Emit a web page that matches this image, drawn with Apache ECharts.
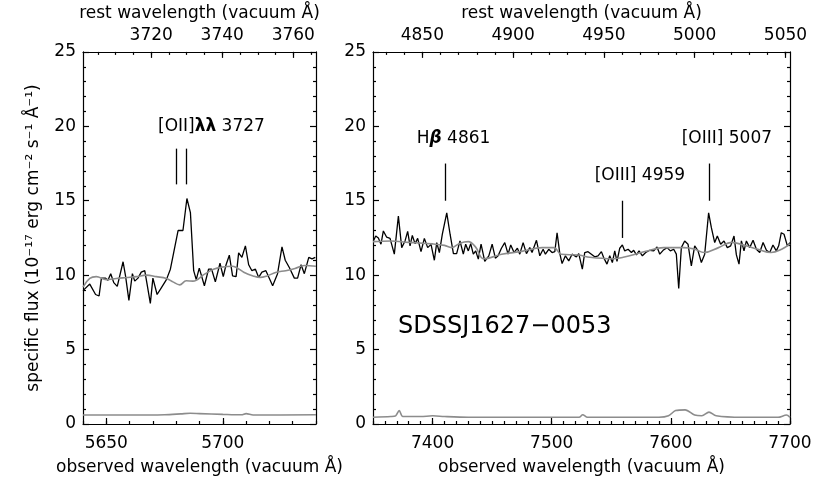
<!DOCTYPE html>
<html>
<head>
<meta charset="utf-8">
<script src="https://cdn.jsdelivr.net/npm/echarts@6/dist/echarts.min.js"></script>
<style>
html, body { margin: 0; padding: 0; background: #fff; }
#chart { width: 830px; height: 499px; }
</style>
</head>
<body>
<div id="chart"></div>
<script>
// redshift used for the rest wavelength axis on top
const z = 0.524;

// left panel: observed wavelength and flux
const obsLeft = [5640.0, 5642.9, 5645.4, 5646.9, 5647.9, 5649.7, 5650.7, 5651.9, 5653.2, 5654.7, 5657.2, 5658.3, 5659.7, 5661.2, 5662.2, 5663.6, 5665.0, 5666.5, 5667.5, 5668.9, 5670.0, 5671.8, 5673.6, 5675.8, 5677.5, 5678.9, 5680.8, 5682.9, 5684.6, 5686.1, 5687.5, 5688.6, 5689.9, 5692.1, 5693.9, 5695.2, 5696.8, 5698.8, 5700.2, 5701.4, 5702.8, 5704.2, 5705.7, 5706.8, 5708.2, 5709.7, 5711.1, 5712.5, 5714.0, 5715.4, 5716.8, 5718.5, 5720.0, 5721.4, 5723.5, 5725.4, 5726.8, 5728.6, 5730.7, 5732.1, 5733.6, 5735.0, 5736.9, 5738.3, 5739.7];
const fluxLeft = [8.96, 9.4, 8.7, 8.6, 9.8, 9.8, 9.65, 10.1, 9.5, 9.25, 10.9, 9.9, 8.3, 10.1, 9.6, 9.8, 10.2, 10.3, 9.4, 8.1, 9.8, 8.7, 9.15, 9.7, 10.4, 11.5, 13.0, 13.0, 15.15, 14.2, 10.3, 9.7, 10.47, 9.29, 10.4, 10.4, 9.55, 10.8, 9.9, 10.7, 11.34, 9.95, 9.9, 11.5, 11.2, 11.97, 10.7, 10.3, 10.4, 9.85, 10.2, 10.3, 9.78, 9.29, 10.1, 11.9, 11.0, 10.5, 9.8, 9.8, 10.7, 10.1, 11.2, 11.1, 11.2];
// left panel: model (grey) and error (grey, bottom)
const modelLeftX = [5640, 5642.9, 5645.7, 5650, 5654.3, 5658.6, 5662.9, 5667.2, 5671.5, 5675.8, 5678.6, 5681.5, 5684.3, 5687.2, 5692, 5696, 5700, 5704, 5706, 5709, 5713, 5716, 5719, 5723, 5727, 5731, 5735, 5740];
const modelLeftY = [9.2, 9.78, 9.9, 9.7, 9.78, 9.84, 9.9, 10.0, 9.9, 9.78, 9.55, 9.35, 9.62, 9.6, 10.05, 10.4, 10.55, 10.6, 10.5, 10.2, 9.95, 9.85, 9.95, 10.2, 10.3, 10.45, 10.65, 10.6];
const errLeftX = [5640, 5660, 5675, 5682, 5686, 5690, 5700, 5708, 5710, 5713, 5740];
const errLeftY = [0.6, 0.6, 0.62, 0.68, 0.72, 0.7, 0.65, 0.62, 0.7, 0.6, 0.62];

// right panel: observed wavelength and flux
const obsRight = [7350.3, 7352.3, 7354.5, 7356.7, 7358.7, 7361.5, 7364.3, 7367.9, 7371.3, 7374.1, 7376.9, 7379.1, 7381.1, 7383.0, 7385.3, 7387.5, 7390.3, 7393.1, 7395.9, 7398.7, 7401.5, 7403.5, 7405.7, 7408.2, 7411.9, 7414.7, 7417.5, 7420.2, 7423.0, 7425.8, 7427.8, 7430.0, 7432.0, 7434.2, 7436.2, 7438.4, 7440.7,
  7443.8, 7447.2, 7450.0, 7452.7, 7455.0, 7457.8, 7460.6, 7463.4, 7465.6, 7468.4, 7471.2, 7473.2, 7476.0, 7478.8, 7481.6, 7483.5, 7487.2, 7490.0, 7492.8, 7494.7, 7497.5, 7500.3, 7502.6, 7504.5, 7506.8, 7508.7, 7511.5, 7514.3, 7517.1, 7520.7, 7522.7,
  7525.7, 7527.7, 7530.5, 7533.3, 7536.1, 7538.9, 7541.7, 7543.6, 7546.4, 7548.7, 7550.9, 7552.9, 7554.8, 7557.1, 7559.3, 7561.3, 7564.1, 7566.9, 7568.8, 7571.1, 7573.3, 7576.1, 7578.9, 7582.3, 7585.6, 7588.4, 7590.7, 7593.5, 7596.8, 7599.6, 7602.4, 7604.6, 7606.6, 7608.8,
  7611.6, 7614.4, 7617.2, 7620.0, 7622.8, 7625.6, 7628.4, 7631.7, 7634.0, 7636.8, 7639.0, 7641.8, 7644.6, 7647.4, 7650.2, 7653.0, 7655.0, 7657.2, 7659.2, 7661.4, 7663.4, 7666.2, 7669.0, 7671.8, 7674.6, 7677.4, 7680.2, 7683.0, 7685.7, 7688.5, 7690.5, 7692.7, 7695.0, 7697.8, 7700.0];
const fluxRight = [12.3, 12.63, 12.5, 12.08, 12.97, 12.55, 12.47, 11.41, 13.97, 11.85, 12.3, 12.94, 11.97, 12.67, 12.12, 12.47, 11.58, 12.47, 11.85, 12.07, 11.0, 12.19, 11.52, 12.75, 14.19, 12.75, 11.45, 11.45, 12.3, 11.41, 12.08, 11.63, 12.12, 11.41, 11.63, 11.08, 12.08,
  10.93, 11.3, 12.08, 11.14, 11.3, 11.81, 12.19, 11.41, 12.03, 11.52, 11.81, 11.41, 12.19, 11.45, 11.85, 11.52, 12.34, 11.3, 11.74, 11.41, 11.74, 11.52, 11.58, 12.85, 11.45, 10.78, 11.3, 10.96, 11.41, 11.23, 11.45,
  10.4, 11.52, 11.58, 11.41, 11.23, 11.3, 11.58, 11.18, 10.74, 11.3, 10.85, 11.63, 10.93, 11.81, 12.03, 11.63, 11.74, 11.52, 11.67, 11.36, 11.63, 11.3, 11.52, 11.67, 11.63, 11.89, 11.41, 11.67, 11.85, 11.63, 11.74, 11.41, 9.1, 11.85,
  12.3, 12.08, 10.63, 11.97, 11.63, 10.85, 11.41, 14.19, 13.19, 12.19, 12.63, 12.08, 12.3, 11.85, 11.97, 12.63, 11.36, 10.74, 12.3, 11.63, 12.3, 11.85, 12.34, 11.74, 11.52, 12.19, 11.67, 11.52, 12.03, 11.63, 11.97, 12.85, 12.75, 11.97, 12.19];
const modelRightX = [7350, 7365, 7380, 7400, 7410, 7416, 7423, 7430, 7436, 7443, 7458, 7475, 7492, 7502, 7508, 7523, 7532, 7551, 7560, 7579, 7594, 7611, 7620, 7628, 7640, 7651, 7662, 7673, 7684, 7693, 7700];
const modelRightY = [12.25, 12.3, 12.2, 12.1, 12.0, 11.85, 12.15, 12.25, 11.9, 11.1, 11.4, 11.6, 11.85, 11.85, 11.4, 11.35, 11.2, 11.1, 11.2, 11.6, 11.85, 11.85, 11.75, 11.52, 11.85, 12.2, 12.0, 11.74, 11.52, 11.74, 12.1];
const errRightX = [7350, 7365, 7369, 7372, 7375, 7390, 7400, 7410, 7430, 7500, 7523, 7526, 7530, 7590, 7598, 7604, 7612, 7620, 7626, 7632, 7638, 7660, 7690, 7697, 7700];
const errRightY = [0.45, 0.5, 0.55, 0.9, 0.5, 0.5, 0.55, 0.5, 0.45, 0.45, 0.45, 0.62, 0.45, 0.45, 0.55, 0.9, 0.95, 0.6, 0.55, 0.8, 0.55, 0.45, 0.45, 0.6, 0.45];

// emission line markers (rest vacuum wavelength, bottom and top of the tick)
const markRest = [3727.09, 3729.88, 4862.68, 4960.30, 5008.24];
const markLow = [16.1, 16.1, 15, 12.5, 15];
const markHigh = [18.5, 18.5, 17.5, 15, 17.5];

// text labels (observed wavelength of left edge, flux of centre)
const leftLabels = [['[OII]{b|λλ} 3727', 5672.2, 20]];
const rightLabels = [['H{g|β} 4861', 7386.7, 19.2], ['[OIII] 4959', 7536.1, 16.7], ['[OIII] 5007', 7609.1, 19.2]];
const objectName = ['SDSSJ1627−0053', 7371, 6.55];

// tick labels
const obsTicksLeft = [5650, 5700];
const obsTicksRight = [7400, 7500, 7600, 7700];
const restTicksLeft = [3720, 3740, 3760];
const restTicksRight = [4850, 4900, 4950, 5000, 5050];

const FONT = 'DejaVu Sans';
const zip = (a, b) => a.map((v, i) => [v, b[i]]);
const steps = (a, b, s) => { const r = []; for (let v = a; v <= b + 1e-9; v += s) r.push(v); return r; };

const lineAx = { show: true, onZero: false, lineStyle: { color: '#000', width: 1.2 } };
const txt = { color: '#000', fontFamily: FONT, fontSize: 17 };
const plain = v => String(Math.round(v));

function xPair(grid, pos, min, max, majors, minors, name, gap) {
  return [{
    type: 'value', gridIndex: grid, position: pos, min: min, max: max,
    axisLine: lineAx,
    axisTick: { show: true, inside: true, length: 6, customValues: majors, lineStyle: { color: '#000', width: 1.2 } },
    axisLabel: Object.assign({ show: true, customValues: majors, margin: pos === 'bottom' ? 11 : 8, formatter: plain }, txt),
    splitLine: { show: false },
    name: name, nameLocation: 'middle', nameGap: gap, nameTextStyle: txt
  }, {
    type: 'value', gridIndex: grid, position: pos, min: min, max: max,
    axisLine: { show: false, onZero: false },
    axisTick: { show: true, inside: true, length: 3, customValues: minors, lineStyle: { color: '#000', width: 1.2 } },
    axisLabel: { show: false },
    splitLine: { show: false }
  }];
}

function yAx(grid, pos, labels, name) {
  return {
    type: 'value', gridIndex: grid, position: pos, min: 0, max: 25, interval: 5,
    axisLine: lineAx,
    axisTick: { show: true, inside: true, length: 6, lineStyle: { color: '#000', width: 1.2 } },
    minorTick: { show: true, splitNumber: 5, length: 3, lineStyle: { color: '#000', width: 1.2 } },
    axisLabel: Object.assign({ show: labels, margin: 7, formatter: plain }, txt),
    splitLine: { show: false }, minorSplitLine: { show: false },
    name: name, nameLocation: 'middle', nameGap: 41, nameTextStyle: txt
  };
}

const obsRange = [[5640, 5740], [7350, 7700]];
const restRange = obsRange.map(r => [r[0] / (1 + z), r[1] / (1 + z)]);

const xAxes = [].concat(
  xPair(0, 'bottom', 5640, 5740, obsTicksLeft, steps(5640, 5740, 10), 'observed wavelength (vacuum Å)', 35),
  xPair(0, 'top', restRange[0][0], restRange[0][1], restTicksLeft, steps(3705, 3765, 5), 'rest wavelength (vacuum Å)', 23),
  xPair(1, 'bottom', 7350, 7700, obsTicksRight, steps(7350, 7700, 10), 'observed wavelength (vacuum Å)', 35),
  xPair(1, 'top', restRange[1][0], restRange[1][1], restTicksRight, steps(4830, 5050, 10), 'rest wavelength (vacuum Å)', 23)
);

const yAxes = [
  yAx(0, 'left', true, 'specific flux (10⁻¹⁷ erg cm⁻² s⁻¹ Å⁻¹)'),
  yAx(0, 'right', false, ''),
  yAx(1, 'left', true, ''),
  yAx(1, 'right', false, '')
];

function markers(idx) {
  return {
    silent: true, symbol: ['none', 'none'], label: { show: false },
    lineStyle: { color: '#000', width: 1.3, type: 'solid' },
    data: idx.map(i => [
      { coord: [markRest[i] * (1 + z), markLow[i]] },
      { coord: [markRest[i] * (1 + z), markHigh[i]] }
    ])
  };
}

const rich = {
  b: { fontFamily: FONT, fontSize: 17, fontWeight: 'bold', color: '#000' },
  g: { fontFamily: FONT, fontSize: 17, fontWeight: 'bold', fontStyle: 'italic', color: '#000' }
};

function labelSeries(xi, yi, items, size) {
  return {
    type: 'scatter', xAxisIndex: xi, yAxisIndex: yi, symbolSize: 0, silent: true,
    itemStyle: { opacity: 1, color: '#000' },
    data: items.map(t => ({ value: [t[1], t[2]], name: t[0] })),
    label: { show: true, position: 'right', distance: 0, formatter: p => p.name, opacity: 1,
      color: '#000', fontFamily: FONT, fontSize: size, rich: rich }
  };
}

const lineBase = { type: 'line', showSymbol: false, symbol: 'none', silent: true, animation: false };
const grey = '#8c8c8c';

const option = {
  animation: false,
  backgroundColor: '#fff',
  grid: [
    { left: 83, top: 50, width: 233, height: 374 },
    { left: 373, top: 50, width: 417, height: 374 }
  ],
  xAxis: xAxes,
  yAxis: yAxes,
  series: [
    Object.assign({}, lineBase, { xAxisIndex: 0, yAxisIndex: 0, data: zip(obsLeft, fluxLeft),
      lineStyle: { color: '#000', width: 1.3 }, markLine: markers([0, 1]) }),
    Object.assign({}, lineBase, { xAxisIndex: 0, yAxisIndex: 0, data: zip(modelLeftX, modelLeftY), smooth: 0.4,
      lineStyle: { color: grey, width: 1.6 } }),
    Object.assign({}, lineBase, { xAxisIndex: 0, yAxisIndex: 0, data: zip(errLeftX, errLeftY), smooth: 0.3,
      lineStyle: { color: grey, width: 1.6 } }),
    Object.assign({}, lineBase, { xAxisIndex: 4, yAxisIndex: 2, data: zip(obsRight, fluxRight),
      lineStyle: { color: '#000', width: 1.3 }, markLine: markers([2, 3, 4]) }),
    Object.assign({}, lineBase, { xAxisIndex: 4, yAxisIndex: 2, data: zip(modelRightX, modelRightY), smooth: 0.4,
      lineStyle: { color: grey, width: 1.6 } }),
    Object.assign({}, lineBase, { xAxisIndex: 4, yAxisIndex: 2, data: zip(errRightX, errRightY), smooth: 0.3,
      lineStyle: { color: grey, width: 1.6 } }),
    labelSeries(0, 0, leftLabels, 17),
    labelSeries(4, 2, rightLabels, 17),
    labelSeries(4, 2, [objectName], 24)
  ]
};

const chart = echarts.init(document.getElementById('chart'));
chart.setOption(option);
</script>
</body>
</html>
